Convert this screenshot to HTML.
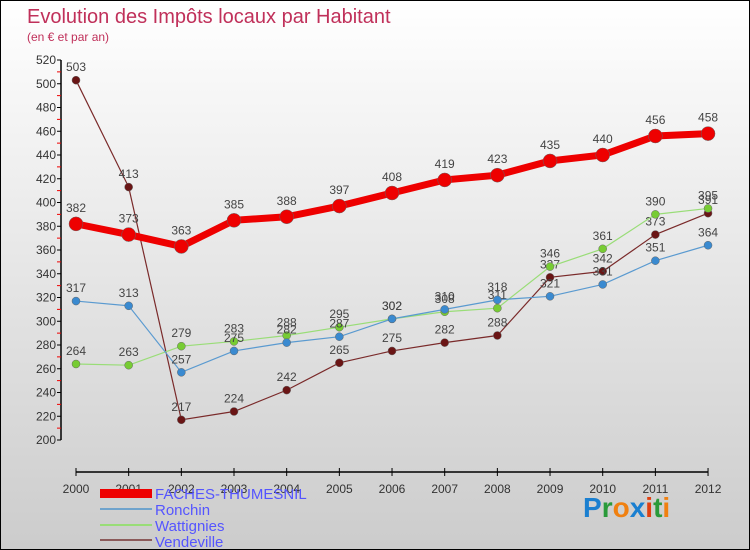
<!DOCTYPE html>
<html><head><meta charset="utf-8"><style>
body{margin:0;}
#c{width:748px;height:548px;border:1px solid #000;background:linear-gradient(#fff,#ccc);position:relative;font-family:"Liberation Sans",sans-serif;overflow:hidden}
</style></head><body>
<div id="c">
<svg width="748" height="548" id="svg" style="position:absolute;left:0;top:0">
<text x="26" y="22" font-size="20" fill="#c0305a">Evolution des Impôts locaux par Habitant</text>
<text x="26" y="40" font-size="12" fill="#c0305a">(en € et par an)</text>
<g id="axes"></g><g id="series"></g>
<g font-size="15" fill="#5555ff">
<rect x="99" y="488" width="52" height="9" fill="#e00"/>
<text x="154" y="498">FACHES-THUMESNIL</text>
<line x1="99" y1="508" x2="151" y2="508" stroke="#6fa3cc" stroke-width="2"/>
<text x="154" y="514">Ronchin</text>
<line x1="99" y1="524" x2="151" y2="524" stroke="#99dd77" stroke-width="2"/>
<text x="154" y="530">Wattignies</text>
<line x1="99" y1="539" x2="151" y2="539" stroke="#8b5a5a" stroke-width="2"/>
<text x="154" y="546">Vendeville</text>
</g>
<g font-size="28" font-weight="bold">
<text x="582" y="516"><tspan fill="#1a7fd0">P</tspan><tspan fill="#2a9a3a">r</tspan><tspan fill="#f08010">o</tspan><tspan fill="#1a7fd0">x</tspan><tspan fill="#e04010">i</tspan><tspan fill="#2a9a3a">t</tspan><tspan fill="#f08010">i</tspan></text>
</g>
</svg>
</div>
<script>
const years=[2000,2001,2002,2003,2004,2005,2006,2007,2008,2009,2010,2011,2012];
const faches=[382,373,363,385,388,397,408,419,423,435,440,456,458];
const ronchin=[317,313,257,275,282,287,302,310,318,321,331,351,364];
const wattignies=[264,263,279,283,288,295,302,308,311,346,361,390,395];
const vendeville=[503,413,217,224,242,265,275,282,288,337,342,373,391];
const yTicks=[200,220,240,260,280,300,320,340,360,380,400,420,440,460,480,500,520];
const NS="http://www.w3.org/2000/svg";
const xs=i=>75+i*52.67;
const ys=v=>439-(v-200)*1.1875;
function mk(t,a,p){const e=document.createElementNS(NS,t);for(const k in a)e.setAttribute(k,a[k]);p.appendChild(e);return e;}
const ax=document.getElementById('axes');
let l=mk('line',{x1:60,y1:ys(520),x2:60,y2:ys(200),stroke:'#000','stroke-width':1.5},ax);


yTicks.forEach(v=>{
 mk('line',{x1:56,y1:ys(v),x2:60,y2:ys(v),stroke:'#000'},ax);
 if(v<520)mk('line',{x1:56,y1:ys(v+10),x2:60,y2:ys(v+10),stroke:'#e00'},ax);
 const t=mk('text',{x:55,y:ys(v)+4,'font-size':12,'text-anchor':'end',fill:'#333'},ax);
 t.textContent=v;
 
 
});
l=mk('line',{x1:75,y1:471,x2:707,y2:471,stroke:'#000','stroke-width':1.5},ax);


years.forEach((y,i)=>{
 mk('line',{x1:xs(i),y1:467,x2:xs(i),y2:475,stroke:'#000'},ax);
 const t=mk('text',{x:xs(i),y:492,'font-size':12,'text-anchor':'middle',fill:'#333'},ax);
 t.textContent=y;
 
 
});
const sg=document.getElementById('series');
function draw(vals,color,w,r,name,dot){
 const g=mk('g',{},sg);
 
 
 mk('polyline',{points:vals.map((v,i)=>xs(i)+','+ys(v)).join(' '),fill:'none',stroke:color,'stroke-width':w},g);
 vals.forEach((v,i)=>{
  const c=mk('circle',{cx:xs(i),cy:ys(v),r:r,fill:dot,stroke:'#666','stroke-width':0.5},g);
  
  
  const t=mk('text',{x:xs(i),y:ys(v)-(r+5),'font-size':12,'text-anchor':'middle',fill:'#444'},g);
  t.textContent=v;
  
  
 });
}
draw(vendeville,'#7a2a2a',1.2,4,'vendeville','#6a1515');
draw(wattignies,'#99dd77',1.2,4,'wattignies','#77cc33');
draw(ronchin,'#5a9ad0',1.2,4,'ronchin','#3a8ad0');
draw(faches,'#ee0000',7,7,'faches','#ee0000');
</script>
</body></html>
